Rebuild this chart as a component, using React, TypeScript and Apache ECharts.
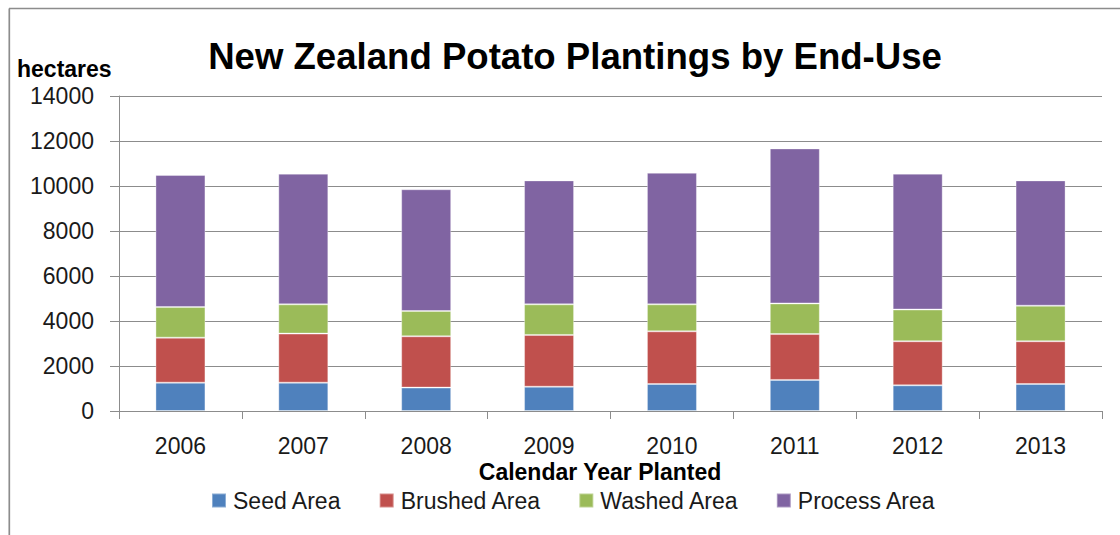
import React, { useEffect, useRef } from "react";
import * as echarts from "echarts";

const years = ["2006", "2007", "2008", "2009", "2010", "2011", "2012", "2013"];
const seedArea = [1260, 1260, 1040, 1080, 1200, 1380, 1140, 1200];
const brushedArea = [2000, 2180, 2280, 2300, 2340, 2040, 1960, 1900];
const washedArea = [1360, 1300, 1125, 1360, 1200, 1360, 1410, 1580];
const processArea = [5870, 5810, 5410, 5510, 5850, 6890, 6040, 5570];
const seriesNames = ["Seed Area", "Brushed Area", "Washed Area", "Process Area"];
const seriesColors = ["#4F81BD", "#C0504D", "#9BBB59", "#8064A2"];

const FONT = "'Liberation Sans', Arial, sans-serif";

export default function App() {
  const ref = useRef<HTMLDivElement>(null);
  useEffect(() => {
    document.body.style.margin = "0";
    if (!ref.current) return;
    const chart = echarts.init(ref.current, null, { renderer: "svg" });
    const data = [seedArea, brushedArea, washedArea, processArea];
    chart.setOption({
      animation: false,
      backgroundColor: "#ffffff",
      textStyle: { fontFamily: FONT },
      grid: { left: 119, right: 18, top: 96, bottom: 124, containLabel: false },
      legend: {
        left: 211,
        top: 489,
        padding: 0,
        itemWidth: 14,
        itemHeight: 14,
        itemGap: 37,
        icon: "rect",
        data: seriesNames,
        textStyle: { fontFamily: FONT, fontSize: 23, color: "#1a1a1a", padding: [0, 0, 0, 2] },
      },
      xAxis: {
        type: "category",
        data: years,
        axisLine: { lineStyle: { color: "#8c8c8c", width: 1 } },
        axisTick: { show: true, length: 8, interval: 0, lineStyle: { color: "#8c8c8c" } },
        axisLabel: { fontFamily: FONT, fontSize: 23, color: "#1a1a1a", margin: 23 },
      },
      yAxis: {
        type: "value",
        min: 0,
        max: 14000,
        interval: 2000,
        axisLine: { show: true, lineStyle: { color: "#8c8c8c", width: 1 } },
        axisTick: { show: true, length: 9, lineStyle: { color: "#8c8c8c" } },
        axisLabel: {
          fontFamily: FONT,
          fontSize: 23,
          color: "#1a1a1a",
          margin: 25,
          formatter: (v: number) => String(v),
        },
        splitLine: { show: true, lineStyle: { color: "#8c8c8c", width: 1 } },
      },
      graphic: [
        {
          type: "line",
          shape: { x1: 9, y1: 8.5, x2: 1120, y2: 8.5 },
          style: { stroke: "#8c8c8c", lineWidth: 1.7 },
        },
        {
          type: "line",
          shape: { x1: 9.3, y1: 8.5, x2: 9.3, y2: 535 },
          style: { stroke: "#8c8c8c", lineWidth: 1.7 },
        },
        {
          type: "text",
          x: 575,
          y: 56.5,
          style: {
            text: "New Zealand Potato Plantings by End-Use",
            font: "bold 36.6px " + FONT,
            fill: "#000000",
            textAlign: "center",
            textVerticalAlign: "middle",
          },
        },
        {
          type: "text",
          x: 17,
          y: 69.3,
          style: {
            text: "hectares",
            font: "bold 23px " + FONT,
            fill: "#000000",
            textAlign: "left",
            textVerticalAlign: "middle",
          },
        },
        {
          type: "text",
          x: 600,
          y: 472,
          style: {
            text: "Calendar Year Planted",
            font: "bold 23px " + FONT,
            fill: "#000000",
            textAlign: "center",
            textVerticalAlign: "middle",
          },
        },
      ],
      series: seriesNames.map((name, i) => ({
        name,
        type: "bar",
        stack: "total",
        barWidth: 50,
        data: data[i],
        itemStyle: { color: seriesColors[i], borderColor: "rgba(255,255,255,0.35)", borderWidth: 1 },
      })),
    });
    return () => chart.dispose();
  }, []);
  return <div ref={ref} style={{ width: 1120, height: 535 }} />;
}
